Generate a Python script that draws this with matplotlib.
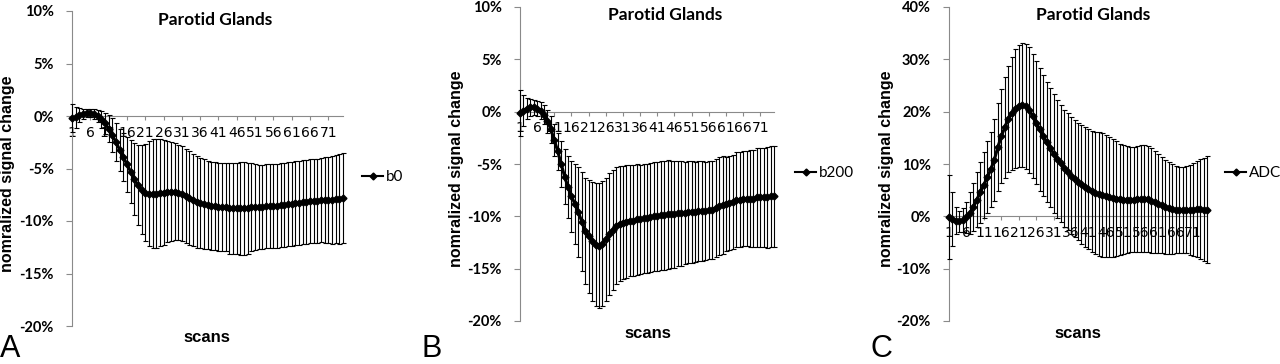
import matplotlib
matplotlib.use("Agg")
import matplotlib.pyplot as plt
from matplotlib.lines import Line2D

# scans 1..75
scans = list(range(1, 76))

# panel A: b0 (mean and SD, %)
b0_mean = [-0.2, -0.1, 0.1, 0.2, 0.3, 0.3, 0.2, 0.0, -0.3, -0.7,
           -1.2, -1.8, -2.5, -3.2, -3.9, -4.6, -5.3, -6.0, -6.6, -7.0,
           -7.3, -7.4, -7.4, -7.4, -7.3, -7.3, -7.2, -7.2, -7.2, -7.3,
           -7.4, -7.6, -7.8, -8.0, -8.2, -8.3, -8.4, -8.5, -8.6, -8.6,
           -8.7, -8.7, -8.7, -8.8, -8.8, -8.8, -8.8, -8.8, -8.8, -8.7,
           -8.7, -8.7, -8.7, -8.6, -8.6, -8.6, -8.6, -8.5, -8.5, -8.4,
           -8.4, -8.3, -8.3, -8.2, -8.2, -8.1, -8.1, -8.1, -8.0, -8.0,
           -8.0, -8.0, -7.9, -7.9, -7.8]
b0_sd = [1.3, 1.0, 0.7, 0.5, 0.4, 0.4, 0.5, 0.6, 0.8, 1.0,
         1.3, 1.6, 1.8, 2.0, 2.3, 2.6, 3.0, 3.4, 3.8, 4.2,
         4.6, 5.0, 5.2, 5.2, 5.1, 5.0, 4.8, 4.7, 4.6, 4.5,
         4.5, 4.5, 4.5, 4.4, 4.4, 4.3, 4.3, 4.2, 4.2, 4.2,
         4.2, 4.2, 4.2, 4.3, 4.3, 4.3, 4.4, 4.4, 4.3, 4.2,
         4.1, 4.0, 4.0, 4.0, 4.0, 4.0, 4.0, 4.0, 4.0, 4.0,
         4.0, 4.0, 4.0, 4.0, 4.0, 4.0, 4.0, 4.0, 4.0, 4.1,
         4.1, 4.2, 4.2, 4.3, 4.3]

# panel B: b200
b200_mean = [-0.15, 0.1, 0.3, 0.4, 0.4, 0.3, 0.1, -0.3, -0.9, -1.7,
             -2.7, -3.8, -5.0, -6.2, -7.2, -8.1, -8.8, -9.6, -10.5, -11.4,
             -11.9, -12.4, -12.7, -12.8, -12.6, -12.2, -11.7, -11.3, -10.9, -10.7,
             -10.6, -10.5, -10.4, -10.4, -10.3, -10.3, -10.2, -10.2, -10.1, -10.0,
             -10.0, -9.9, -9.9, -9.8, -9.8, -9.8, -9.7, -9.7, -9.7, -9.6,
             -9.6, -9.6, -9.5, -9.5, -9.5, -9.4, -9.4, -9.2, -9.0, -8.9,
             -8.8, -8.7, -8.6, -8.4, -8.4, -8.3, -8.3, -8.3, -8.3, -8.2,
             -8.2, -8.2, -8.2, -8.1, -8.1]
b200_sd = [2.2, 1.5, 1.0, 0.8, 0.7, 0.7, 0.8, 0.9, 1.1, 1.3,
           1.5, 1.8, 2.2, 2.6, 3.0, 3.4, 3.8, 4.3, 4.7, 5.1,
           5.4, 5.7, 5.9, 6.0, 6.0, 5.9, 5.8, 5.7, 5.6, 5.5,
           5.4, 5.4, 5.3, 5.3, 5.3, 5.2, 5.2, 5.2, 5.2, 5.2,
           5.2, 5.2, 5.2, 5.2, 5.1, 5.1, 5.0, 5.0, 4.9, 4.9,
           4.9, 4.8, 4.8, 4.8, 4.7, 4.7, 4.7, 4.7, 4.7, 4.7,
           4.5, 4.5, 4.5, 4.5, 4.5, 4.5, 4.5, 4.6, 4.6, 4.7,
           4.7, 4.7, 4.8, 4.8, 4.8]

# panel C: ADC
adc_mean = [-0.1, -0.5, -0.8, -0.9, -0.7, -0.2, 0.6, 1.8, 3.2, 4.6,
            6.0, 7.5, 9.0, 10.8, 13.2, 15.3, 17.0, 18.6, 19.7, 20.6,
            21.1, 21.3, 21.0, 20.3, 19.2, 17.9, 16.6, 15.4, 14.2, 13.1,
            12.0, 11.0, 10.1, 9.2, 8.5, 7.8, 7.2, 6.6, 6.1, 5.6,
            5.2, 4.8, 4.5, 4.3, 4.1, 3.9, 3.7, 3.5, 3.4, 3.3,
            3.2, 3.2, 3.2, 3.2, 3.3, 3.4, 3.4, 3.3, 3.0, 2.7,
            2.4, 2.1, 1.8, 1.6, 1.4, 1.3, 1.2, 1.2, 1.3, 1.3,
            1.3, 1.4, 1.4, 1.3, 1.3]
adc_sd = [8.0, 5.1, 2.6, 2.0, 2.2, 3.0, 4.0, 4.6, 5.2, 5.8,
          6.3, 6.8, 7.2, 7.8, 8.4, 9.0, 9.6, 10.2, 10.8, 11.3,
          11.7, 11.9, 12.0, 12.0, 11.9, 11.8, 11.7, 11.6, 11.5, 11.4,
          11.3, 11.3, 11.2, 11.2, 11.2, 11.2, 11.2, 11.2, 11.3, 11.4,
          11.5, 11.6, 11.7, 11.8, 11.8, 11.7, 11.5, 11.2, 10.9, 10.6,
          10.4, 10.2, 10.1, 10.1, 10.2, 10.3, 10.3, 10.2, 10.0, 9.7,
          9.5, 9.2, 9.0, 8.8, 8.6, 8.4, 8.3, 8.3, 8.4, 8.6,
          8.9, 9.2, 9.6, 9.9, 10.2]

labels = ["b0", "b200", "ADC"]
letters = ["A", "B", "C"]
W, H = 1280, 364

def fx(p):
    return p / W

def fy(p):
    return 1 - p / H

# per panel layout in pixels: left, right, top, bottom
boxes = [(72, 343, 11, 326), (520, 774, 7, 321), (949, 1207, 7, 321)]
ylims = [(-20, 10, 5), (-20, 10, 5), (-20, 40, 10)]
titles_xy = [(215, 20), (665, 15), (1093, 15)]
ylab_xy = [(8, 174), (457, 169), (887, 169)]
xlab_xy = [(207, 338), (648, 333), (1078, 333)]
leg_xy = [(362, 177), (795, 173), (1225, 173)]
letter_x = [0, 421, 870]
means = [b0_mean, b200_mean, adc_mean]
sds = [b0_sd, b200_sd, adc_sd]

gray = "#8a8a8a"
fig = plt.figure(figsize=(12.8, 3.64), dpi=100)

for i in range(3):
    l, r, t, b = boxes[i]
    ax = fig.add_axes([fx(l), fy(b), (r - l) / W, (b - t) / H])
    ymin, ymax, step = ylims[i]

    cont = ax.errorbar(scans, means[i], yerr=sds[i], color="black", lw=2.2,
                       marker="D", ms=3.5, elinewidth=0.8, capsize=1.8,
                       capthick=0.8, zorder=3)
    for art in cont.get_children():
        art.set_clip_on(False)

    ax.set_xlim(1, 75)
    ax.set_ylim(ymin, ymax)
    ax.set_yticks(range(ymin, ymax + 1, step))
    ax.set_yticklabels([f"{v}%" for v in range(ymin, ymax + 1, step)],
                       fontfamily="Lato", fontweight="bold", fontsize=10.5)
    ax.set_xticks(range(1, 76, 5))
    ax.set_xticklabels([str(v) for v in range(1, 76, 5)],
                       fontfamily="Lato", fontweight="bold", fontsize=7.3)

    for s in ["top", "right"]:
        ax.spines[s].set_visible(False)
    ax.spines["bottom"].set_position(("data", 0))
    ax.spines["left"].set_color(gray)
    ax.spines["bottom"].set_color(gray)
    ax.tick_params(axis="y", length=4, color=gray, pad=9)
    ax.tick_params(axis="x", length=3, color=gray, pad=4)

    tx, ty = titles_xy[i]
    fig.text(fx(tx), fy(ty), "Parotid Glands", ha="center", va="center",
             fontfamily="Lato", fontweight="bold", fontsize=12.5)
    yx, yy = ylab_xy[i]
    fig.text(fx(yx), fy(yy), "nomralized signal change", rotation=90,
             ha="center", va="center", fontfamily="Liberation Sans",
             fontweight="bold", fontsize=11.5)
    sx, sy = xlab_xy[i]
    fig.text(fx(sx), fy(sy), "scans", ha="center", va="center",
             fontfamily="Liberation Sans", fontweight="bold", fontsize=12)
    lx, ly = leg_xy[i]
    handle = Line2D([], [], color="black", lw=1.5, marker="D", ms=3.5)
    ax.legend([handle], [labels[i]], loc="center left",
              bbox_to_anchor=(fx(lx), fy(ly)),
              bbox_transform=fig.transFigure, frameon=False,
              handlelength=1.4, handletextpad=0.15, borderpad=0,
              borderaxespad=0, prop={"family": "Lato", "size": 11})
    fig.text(fx(letter_x[i]), fy(357), letters[i], ha="left", va="baseline",
             fontfamily="Liberation Sans", fontsize=22)

fig.savefig("out.png", dpi=100)
